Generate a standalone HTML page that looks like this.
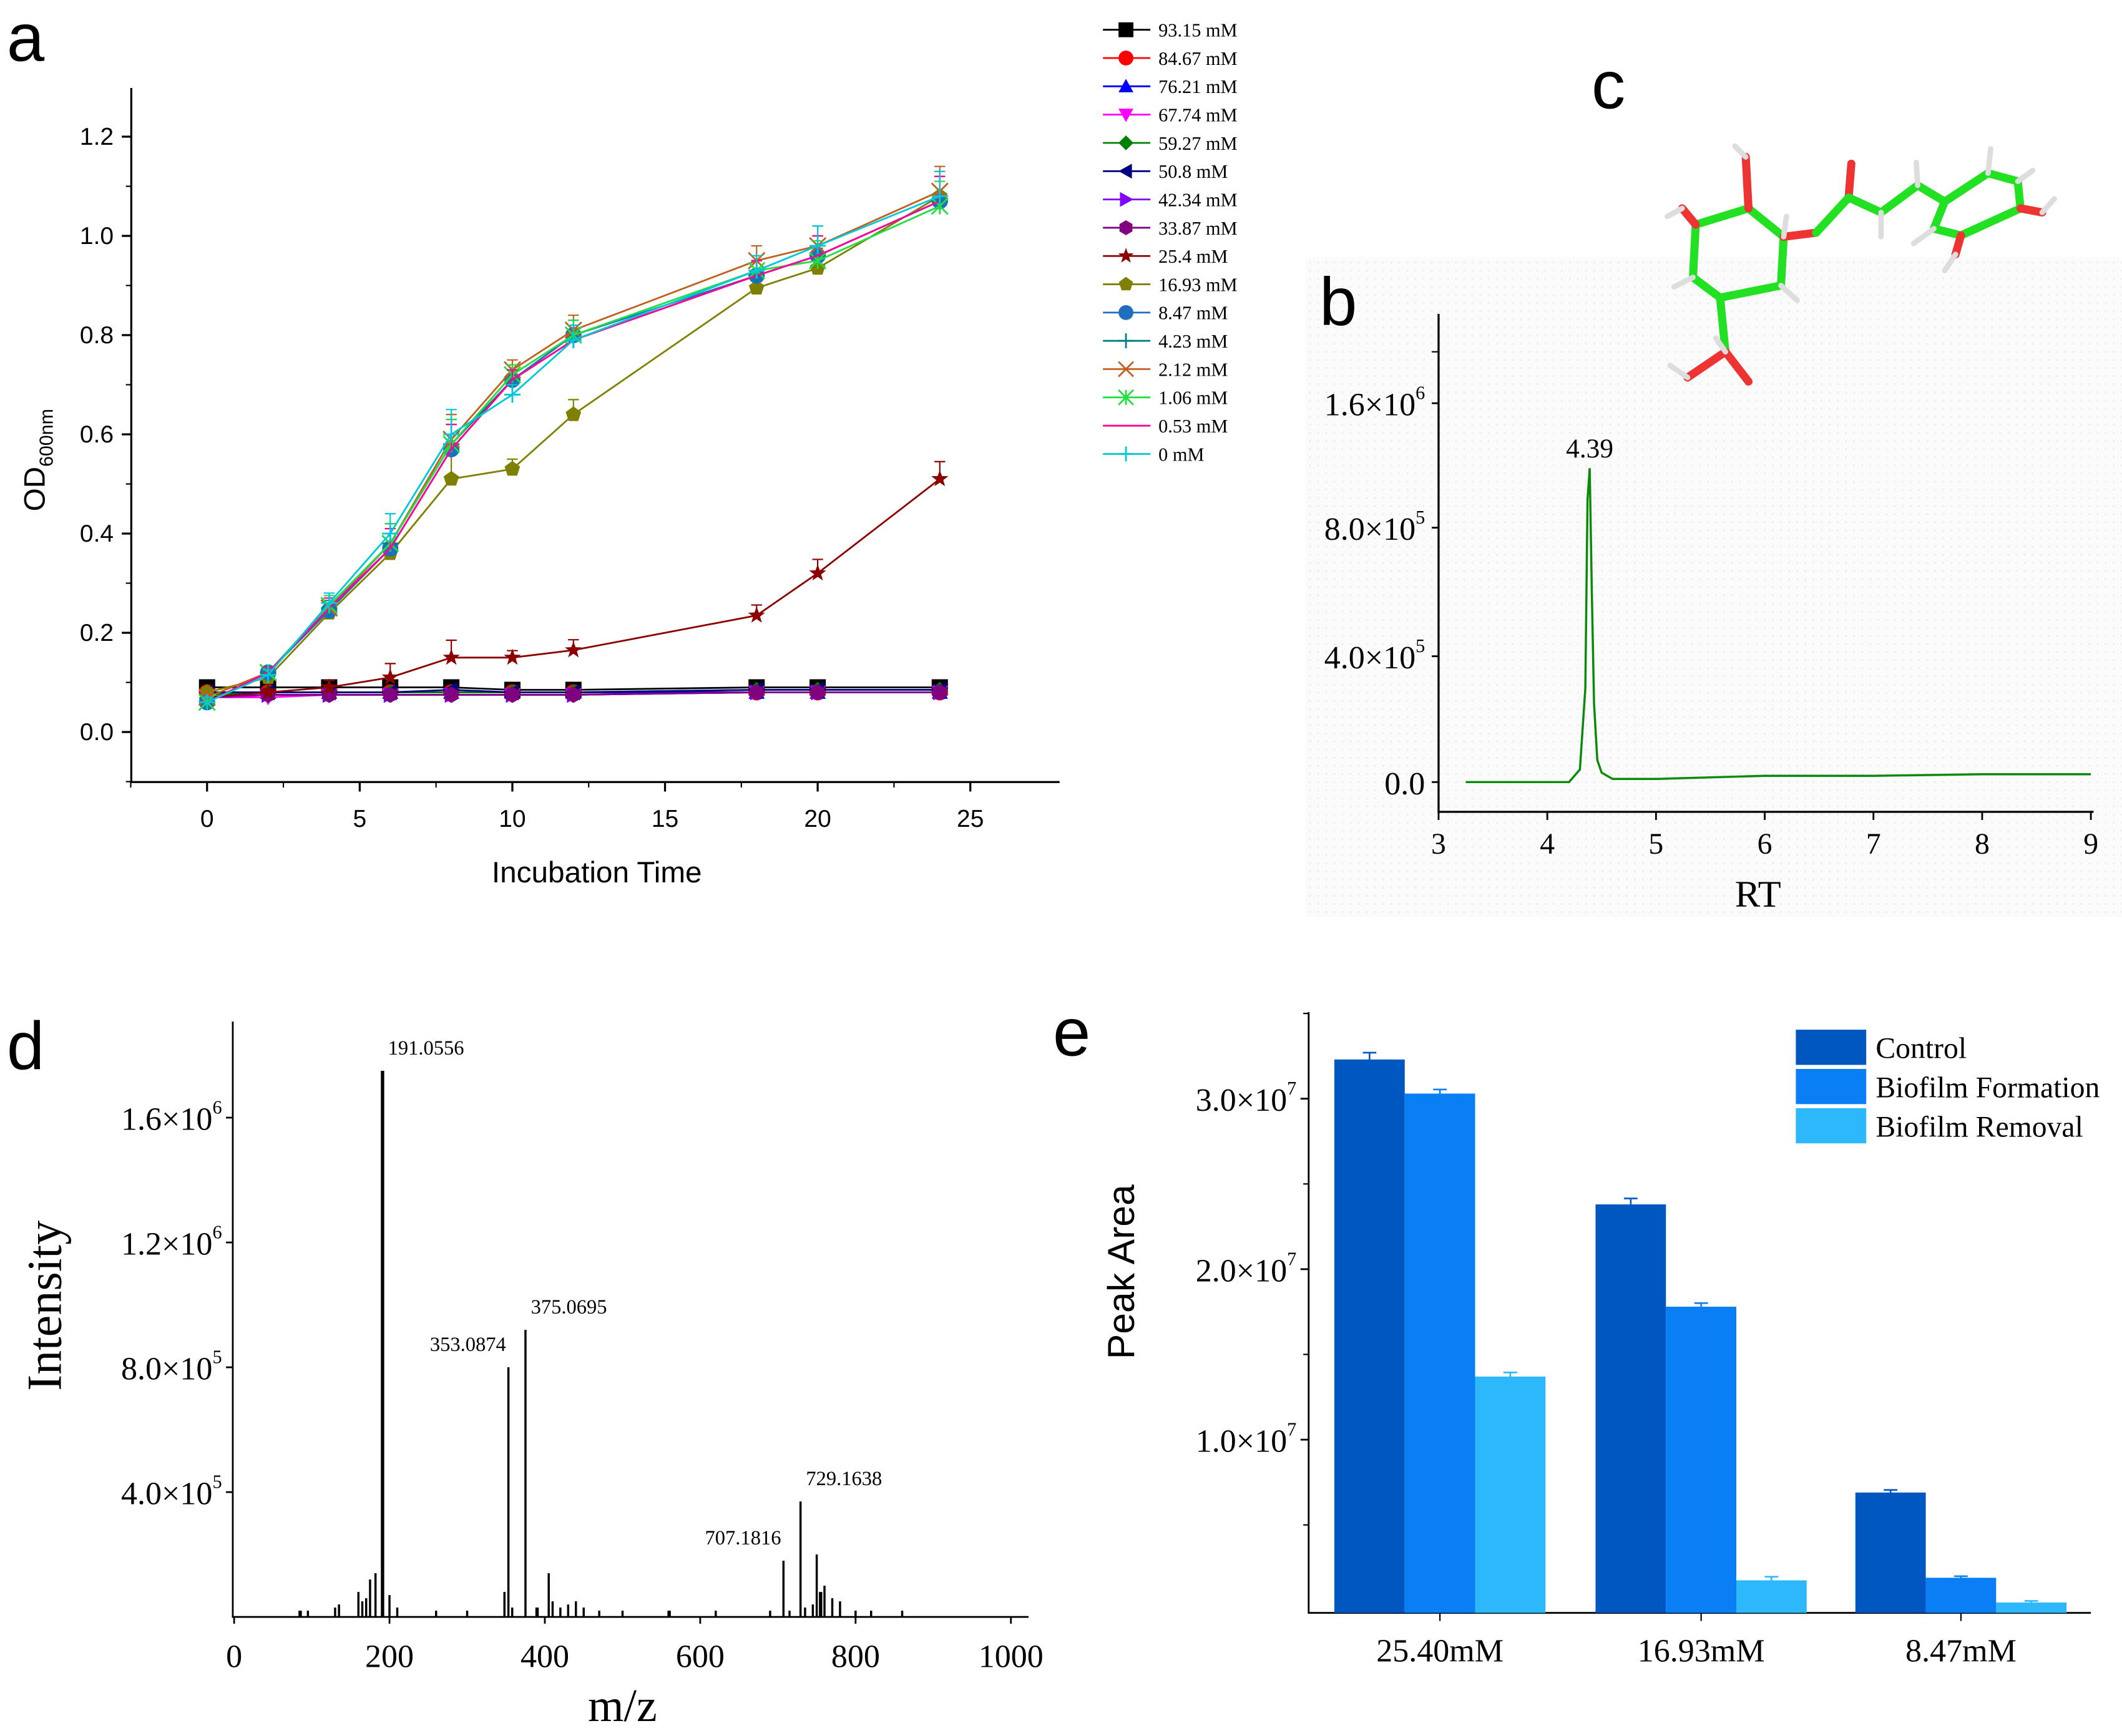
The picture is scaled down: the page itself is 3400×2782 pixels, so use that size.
<!DOCTYPE html>
<html><head><meta charset="utf-8"><style>
html,body{margin:0;padding:0;background:#fff;width:3400px;height:2782px;overflow:hidden}
svg{display:block}
.s{font-family:"Liberation Sans",sans-serif}
.r{font-family:"Liberation Serif",serif}
</style></head><body>
<svg id="fig" width="3400" height="2782" viewBox="0 0 1568 1283" preserveAspectRatio="none" xmlns="http://www.w3.org/2000/svg">
<defs>
<pattern id="dots" width="6" height="6" patternUnits="userSpaceOnUse"><rect width="6" height="6" fill="#fbfbfb"/><circle cx="2" cy="2" r="0.7" fill="#ececec"/></pattern>
</defs>
<rect x="965" y="190" width="603" height="488" fill="url(#dots)"/>
<g id="A"></g><g id="B"></g><g id="C"></g><g id="D"></g><g id="E"></g>
</svg>
<script>
// ===== Panel a data =====
const timesA=[0,2,4,6,8,10,12,18,20,24];
const concLabels=["93.15 mM","84.67 mM","76.21 mM","67.74 mM","59.27 mM","50.8 mM","42.34 mM","33.87 mM","25.4 mM","16.93 mM","8.47 mM","4.23 mM","2.12 mM","1.06 mM","0.53 mM","0 mM"];
const s93=[0.09,0.09,0.09,0.09,0.09,0.085,0.085,0.09,0.09,0.09];
const s84=[0.08,0.08,0.08,0.08,0.08,0.08,0.08,0.08,0.08,0.08];
const s76=[0.08,0.08,0.08,0.08,0.08,0.08,0.08,0.08,0.08,0.08];
const s67=[0.07,0.07,0.075,0.075,0.075,0.075,0.075,0.08,0.08,0.08];
const s59=[0.075,0.08,0.08,0.08,0.08,0.08,0.08,0.085,0.085,0.085];
const s50=[0.08,0.08,0.08,0.08,0.085,0.08,0.08,0.085,0.085,0.085];
const s42=[0.07,0.075,0.075,0.075,0.075,0.075,0.075,0.08,0.08,0.08];
const s33=[0.07,0.075,0.075,0.075,0.075,0.075,0.075,0.08,0.08,0.08];
const s25=[0.07,0.08,0.09,0.11,0.15,0.15,0.165,0.235,0.32,0.51];
const s16=[0.08,0.11,0.24,0.36,0.51,0.53,0.64,0.895,0.935,1.08];
const s8=[0.06,0.12,0.245,0.37,0.57,0.71,0.80,0.92,0.96,1.07];
const s4=[0.06,0.12,0.25,0.38,0.58,0.71,0.79,0.92,0.96,1.07];
const s2=[0.07,0.12,0.25,0.38,0.59,0.73,0.81,0.95,0.98,1.09];
const s1=[0.06,0.12,0.255,0.38,0.58,0.72,0.80,0.93,0.95,1.06];
const s05=[0.06,0.12,0.25,0.37,0.57,0.71,0.79,0.92,0.96,1.07];
const s0=[0.06,0.115,0.26,0.40,0.60,0.68,0.79,0.93,0.98,1.08];
const errA=[0.01,0.01,0.02,0.04,0.05,0.02,0.03,0.03,0.04,0.05];
const seriesA=[s93,s84,s76,s67,s59,s50,s42,s33,s25,s16,s8,s4,s2,s1,s05,s0];
const colorsA=["#000","#f00","#00f","#f0f","#008000","#000080","#8000ff","#800080","#8b0000","#808000","#1f6fbf","#008080","#c06020","#22dd44","#ff0099","#00c8d8"];
const markersA=["sq","ci","tu","td","di","tl","tr","hx","st","pe","ci","pl","x","as","no","pl"];
const yTicksA=[0.0,0.2,0.4,0.6,0.8,1.0,1.2];
const xTicksA=[0,5,10,15,20,25];

// ===== Panel b data =====
const rtX=[3.25,4.2,4.3,4.35,4.37,4.39,4.41,4.43,4.46,4.5,4.6,5,6,7,8,9];
const rtY=[0.0,0.0,0.04,0.3,0.9,1.0,0.6,0.25,0.07,0.03,0.01,0.01,0.02,0.02,0.025,0.025];
const rtYTickVals=[0,0.4,0.8,1.2];
const rtYTickLabels=["0.0","4.0×10","8.0×10","1.6×10"];
const rtYTickExp=["","5","5","6"];
const rtXTicks=[3,4,5,6,7,8,9];

// ===== Panel d data =====
const mzX=[85,95,130,135,160,165,170,175,182,191.06,200,210,260,300,348,353.09,358,375.07,390,405,410,420,430,440,450,470,500,560,620,690,707.18,715,729.16,735,745,750,755,760,770,780,800,820,860];
const mzY=[0.02,0.02,0.03,0.04,0.08,0.05,0.06,0.12,0.14,1.75,0.07,0.03,0.02,0.02,0.08,0.8,0.03,0.92,0.03,0.14,0.05,0.03,0.04,0.05,0.03,0.02,0.02,0.02,0.02,0.02,0.18,0.02,0.37,0.03,0.04,0.2,0.08,0.1,0.06,0.05,0.02,0.02,0.02];
const mzLabels=[[191.06,1.75,"191.0556",0],[353.09,0.8,"353.0874",-62],[375.07,0.92,"375.0695",0],[707.18,0.18,"707.1816",-62],[729.16,0.37,"729.1638",0]];
const mzXTicks=[0,200,400,600,800,1000];
const mzYTicks=[0.4,0.8,1.2,1.6];

// ===== Panel e data =====
const concE=["25.40mM","16.93mM","8.47mM"];
const controlE=[32.3,23.8,6.9];
const formationE=[30.3,17.8,1.9];
const removalE=[13.7,1.75,0.45];
const errE=[0.4,0.35,0.15];
const seriesNamesE=["Control","Biofilm Formation","Biofilm Removal"];
const colorsE=["#0057c0","#0a7ff5","#2cb8fb"];
const yTicksE=[10,20,30];

const NS="http://www.w3.org/2000/svg";
function mk(parent,tag,attrs,text){const e=document.createElementNS(NS,tag);for(const k in attrs)e.setAttribute(k,attrs[k]);if(text!==undefined)e.textContent=text;parent.appendChild(e);return e;}

// ---------- Panel A ----------
(function(){
const g=document.getElementById('A');
const X=t=>153+t*(717-153)/25, Y=v=>541-v*(541-101)/1.2;
let t=mk(g,'text',{x:5,y:45,'font-size':50,class:'s'},'a');

let ax=mk(g,'path',{d:'M97 65 V578 H783',stroke:'#000','stroke-width':1.5,fill:'none'});

yTicksA.forEach(v=>{mk(g,'line',{x1:97,x2:90,y1:Y(v),y2:Y(v),stroke:'#000','stroke-width':1.5});
 if(v<1.2)mk(g,'line',{x1:97,x2:93,y1:Y(v+0.1),y2:Y(v+0.1),stroke:'#000'});
 let l=mk(g,'text',{x:84,y:Y(v)+6,'text-anchor':'end','font-size':18,class:'s'},v.toFixed(1));
 });
mk(g,'line',{x1:97,x2:93,y1:Y(-0.1),y2:Y(-0.1),stroke:'#000'});
xTicksA.forEach(v=>{mk(g,'line',{x1:X(v),x2:X(v),y1:578,y2:585,stroke:'#000','stroke-width':1.5});
 mk(g,'line',{x1:X(v-2.5),x2:X(v-2.5),y1:578,y2:582,stroke:'#000'});
 let l=mk(g,'text',{x:X(v),y:611,'text-anchor':'middle','font-size':18,class:'s'},v);
 });
let xt=mk(g,'text',{x:441,y:652,'text-anchor':'middle','font-size':22,class:'s'},'Incubation Time');

let yt=mk(g,'text',{transform:'translate(33,340) rotate(-90)','text-anchor':'middle','font-size':22,class:'s'});

yt.innerHTML='OD<tspan font-size="14" dy="6">600nm</tspan>';
function marker(p,type,x,y,c,r){
 if(type==='sq')return mk(p,'rect',{x:x-r,y:y-r,width:2*r,height:2*r,fill:c});
 if(type==='ci')return mk(p,'circle',{cx:x,cy:y,r:r,fill:c});
 if(type==='tu')return mk(p,'polygon',{points:`${x},${y-r} ${x-r},${y+r*0.8} ${x+r},${y+r*0.8}`,fill:c});
 if(type==='td')return mk(p,'polygon',{points:`${x},${y+r} ${x-r},${y-r*0.8} ${x+r},${y-r*0.8}`,fill:c});
 if(type==='tl')return mk(p,'polygon',{points:`${x-r},${y} ${x+r*0.8},${y-r} ${x+r*0.8},${y+r}`,fill:c});
 if(type==='tr')return mk(p,'polygon',{points:`${x+r},${y} ${x-r*0.8},${y-r} ${x-r*0.8},${y+r}`,fill:c});
 if(type==='di')return mk(p,'polygon',{points:`${x},${y-r} ${x+r},${y} ${x},${y+r} ${x-r},${y}`,fill:c});
 if(type==='hx'||type==='pe'){const n=type==='hx'?6:5;let pts=[];for(let i=0;i<n;i++){const a=-Math.PI/2+i*2*Math.PI/n;pts.push((x+r*Math.cos(a))+','+(y+r*Math.sin(a)));}return mk(p,'polygon',{points:pts.join(' '),fill:c});}
 if(type==='st'){let pts=[];for(let i=0;i<10;i++){const a=-Math.PI/2+i*Math.PI/5,rr=i%2?r*0.45:r*1.1;pts.push((x+rr*Math.cos(a))+','+(y+rr*Math.sin(a)));}return mk(p,'polygon',{points:pts.join(' '),fill:c});}
 if(type==='pl')return mk(p,'path',{d:`M${x-r} ${y}H${x+r}M${x} ${y-r}V${y+r}`,stroke:c,'stroke-width':1.3});
 if(type==='x')return mk(p,'path',{d:`M${x-r} ${y-r}L${x+r} ${y+r}M${x-r} ${y+r}L${x+r} ${y-r}`,stroke:c,'stroke-width':1.3});
 if(type==='as')return mk(p,'path',{d:`M${x-r} ${y-r}L${x+r} ${y+r}M${x-r} ${y+r}L${x+r} ${y-r}M${x} ${y-r}V${y+r}`,stroke:c,'stroke-width':1.3});
 return null;}
seriesA.forEach((s,si)=>{
 const sg=mk(g,'g',{});
 
 
 const c=colorsA[si];
 if(si>=8) s.forEach((v,i)=>{const e=errA[i]*(si===8?0.7:1);mk(sg,'path',{d:`M${X(timesA[i])} ${Y(v)}V${Y(v+e)}M${X(timesA[i])-4} ${Y(v+e)}H${X(timesA[i])+4}`,stroke:c,'stroke-width':1});});
 mk(sg,'polyline',{points:s.map((v,i)=>X(timesA[i])+','+Y(v)).join(' '),fill:'none',stroke:c,'stroke-width':1.3});
 s.forEach((v,i)=>{const m=marker(sg,markersA[si],X(timesA[i]),Y(v),c,6);if(m){}});
 // legend
 const ly=22+si*20.9;
 const lg=mk(g,'g',{});
 
 mk(lg,'line',{x1:815,x2:850,y1:ly,y2:ly,stroke:c,'stroke-width':1.3});
 marker(lg,markersA[si],832,ly,c,5.5);
 mk(lg,'text',{x:856,y:ly+5,'font-size':14,class:'r'},concLabels[si]);
});
})();

// ---------- Panel B ----------
(function(){
const g=document.getElementById('B');
const X=v=>1063+(v-3)*(1545-1063)/6;
const Yv=v=>578-v*(578-353)/0.97;
let t=mk(g,'text',{x:975,y:240,'font-size':50,class:'s'},'b');
let ax=mk(g,'path',{d:'M1063 232 V600 H1547',stroke:'#000','stroke-width':1.5,fill:'none'});
const tickPos=[578,485,390,298];
rtYTickVals.forEach((v,i)=>{mk(g,'line',{x1:1063,x2:1058,y1:tickPos[i],y2:tickPos[i],stroke:'#000','stroke-width':1.3});
 const l=mk(g,'text',{x:1053,y:tickPos[i]+9,'text-anchor':'end','font-size':24,class:'r'});
 
 l.innerHTML=rtYTickLabels[i]+(rtYTickExp[i]?'<tspan font-size="14" dy="-12">'+rtYTickExp[i]+'</tspan>':'');});
[260].forEach(y=>mk(g,'line',{x1:1063,x2:1058,y1:y,y2:y,stroke:'#000'}));
rtXTicks.forEach(v=>{mk(g,'line',{x1:X(v),x2:X(v),y1:600,y2:606,stroke:'#000','stroke-width':1.3});
 const l=mk(g,'text',{x:X(v),y:631,'text-anchor':'middle','font-size':22,class:'r'},v);});
const xt=mk(g,'text',{x:1299,y:670,'text-anchor':'middle','font-size':28,class:'r'},'RT');
const ln=mk(g,'polyline',{points:rtX.map((v,i)=>X(v)+','+Yv(rtY[i])).join(' '),fill:'none',stroke:'#0a8a0a','stroke-width':1.6});

const pl=mk(g,'text',{x:X(4.39),y:Yv(1.0)-8,'text-anchor':'middle','font-size':20,class:'r'},'4.39');
})();

// ---------- Panel C (molecule) ----------
(function(){
const g=document.getElementById('C');
let t=mk(g,'text',{x:1176,y:80,'font-size':50,class:'s'},'c');
const m=mk(g,'g',{'stroke-linecap':'round'});
const G='#22e022',R='#ee3333',W='#dddddd';
const bonds=[
[1292,154,1253,166,G],[1292,154,1318,175,G],[1253,166,1251,205,G],[1251,205,1271,220,G],[1271,220,1316,211,G],[1316,211,1318,175,G],
[1292,154,1290,116,R],[1253,166,1243,154,R],[1318,175,1342,172,R],[1342,172,1366,146,G],[1366,146,1368,121,R],[1366,146,1390,157,G],
[1390,157,1417,137,G],[1417,137,1437,149,G],[1437,149,1469,128,G],[1469,128,1491,134,G],[1491,134,1493,154,G],[1493,154,1449,174,G],[1449,174,1429,169,G],[1429,169,1437,149,G],
[1493,154,1509,157,R],[1449,174,1445,188,R],[1271,220,1275,260,G],[1275,260,1247,279,R],[1275,260,1292,282,R]];
bonds.forEach(b=>mk(m,'line',{x1:b[0],y1:b[1],x2:b[2],y2:b[3],stroke:b[4],'stroke-width':6}));
const hs=[[1290,116,1282,108],[1243,154,1232,160],[1251,205,1237,212],[1316,211,1328,222],[1275,260,1268,250],[1247,279,1234,270],[1390,157,1390,175],[1417,137,1416,120],[1469,128,1471,110],[1491,134,1502,126],[1509,157,1518,147],[1445,188,1437,200],[1429,169,1414,180],[1318,175,1320,160]];
hs.forEach(h=>mk(m,'line',{x1:h[0],y1:h[1],x2:h[2],y2:h[3],stroke:W,'stroke-width':4}));
})();

// ---------- Panel D ----------
(function(){
const g=document.getElementById('D');
const X=v=>173+v*(747-173)/1000, Y=v=>1195-v*(1195-826)/1.6;
let t=mk(g,'text',{x:5,y:790,'font-size':50,class:'s'},'d');
let ax=mk(g,'path',{d:'M172 755 V1195 H760',stroke:'#000','stroke-width':1.3,fill:'none'});
mzYTicks.forEach(v=>{mk(g,'line',{x1:172,x2:167,y1:Y(v),y2:Y(v),stroke:'#000','stroke-width':1.3});
 const l=mk(g,'text',{x:164,y:Y(v)+9,'text-anchor':'end','font-size':24,class:'r'});
 const mant=v>=1?(v/1).toFixed(1):(v*10).toFixed(1),ex=v>=1?6:5;l.innerHTML=mant+'×10<tspan font-size="14" dy="-12">'+ex+'</tspan>';});
mzXTicks.forEach(v=>{mk(g,'line',{x1:X(v),x2:X(v),y1:1195,y2:1200,stroke:'#000','stroke-width':1.3});
 const l=mk(g,'text',{x:X(v),y:1232,'text-anchor':'middle','font-size':24,class:'r'},v);});
const xt=mk(g,'text',{x:460,y:1272,'text-anchor':'middle','font-size':34,class:'r'},'m/z');
const yt=mk(g,'text',{transform:'translate(45,965) rotate(-90)','text-anchor':'middle','font-size':36,class:'r'},'Intensity');
mzX.forEach((v,i)=>{const l=mk(g,'line',{x1:X(v),x2:X(v),y1:1195,y2:Y(mzY[i]),stroke:'#000','stroke-width':i%9===0?2.5:1.6});});
mzLabels.forEach(p=>{const l=mk(g,'text',{x:X(p[0])+4+p[3],y:Y(p[1])-12,'font-size':15,class:'r'},p[2]);});
})();

// ---------- Panel E ----------
(function(){
const g=document.getElementById('E');
const Y=v=>1190-v*12.6;
const centers=[1064,1257,1449],bw=52;
let t=mk(g,'text',{x:778,y:780,'font-size':50,class:'s'},'e');
let ax=mk(g,'path',{d:'M967 748 V1192 H1545',stroke:'#000','stroke-width':1.3,fill:'none'});
yTicksE.forEach(v=>{mk(g,'line',{x1:967,x2:961,y1:Y(v),y2:Y(v),stroke:'#000','stroke-width':1.3});
 mk(g,'line',{x1:967,x2:963,y1:Y(v-5),y2:Y(v-5),stroke:'#000'});
 const l=mk(g,'text',{x:958,y:Y(v)+9,'text-anchor':'end','font-size':24,class:'r'});
 l.innerHTML=(v/10).toFixed(1)+'×10<tspan font-size="14" dy="-12">7</tspan>';});
mk(g,'line',{x1:967,x2:963,y1:Y(35),y2:Y(35),stroke:'#000'});
const yt=mk(g,'text',{transform:'translate(838,940) rotate(-90)','text-anchor':'middle','font-size':28,class:'s'},'Peak Area');
[controlE,formationE,removalE].forEach((s,si)=>{s.forEach((v,i)=>{
 const x=centers[i]+(si-1.5)*bw;
 const b=mk(g,'rect',{x:x,y:Y(v),width:bw,height:Y(0)-Y(v)+2,fill:colorsE[si]});
 
 const e=si===0?errE[i]:errE[i]*0.6;
 mk(g,'path',{d:`M${x+bw/2} ${Y(v+e)}V${Y(v-e)}M${x+bw/2-5} ${Y(v+e)}H${x+bw/2+5}M${x+bw/2-5} ${Y(v-e)}H${x+bw/2+5}`,stroke:colorsE[si],'stroke-width':1.2});});});
concE.forEach((c,i)=>{mk(g,'line',{x1:centers[i],x2:centers[i],y1:1192,y2:1198,stroke:'#000'});
 const l=mk(g,'text',{x:centers[i],y:1228,'text-anchor':'middle','font-size':24,class:'r'},c);});
seriesNamesE.forEach((n,i)=>{const lg=mk(g,'g',{});
 mk(lg,'rect',{x:1327,y:761+i*29,width:52,height:26,fill:colorsE[i]});
 mk(lg,'text',{x:1386,y:782+i*29,'font-size':22,class:'r'},n);});
})();
</script>
</body></html>
